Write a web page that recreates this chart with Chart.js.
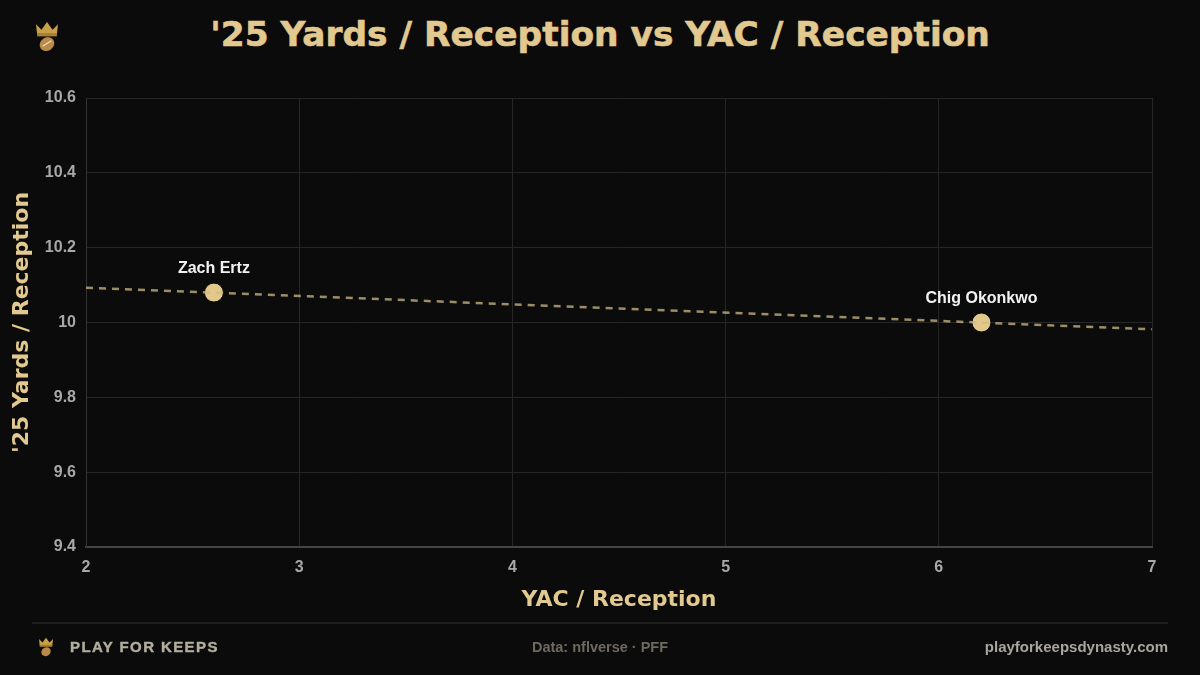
<!DOCTYPE html>
<html>
<head>
<meta charset="utf-8">
<script src="https://cdn.jsdelivr.net/npm/chart.js@4.4.0/dist/chart.umd.min.js"></script>
<style>
  html, body { margin: 0; padding: 0; background: #0b0b0b; }
  #wrap { position: relative; width: 1200px; height: 675px; overflow: hidden; }
  #chart { position: absolute; left: 0; top: 0; }
  .title { position: absolute; top: 14px; left: 0; width: 1200px; text-align: center;
    font-family: "DejaVu Sans", sans-serif; font-weight: bold; font-size: 34.4px; color: #e2c98f;
    -webkit-text-stroke: 0.6px #e2c98f; }
  .rule { position: absolute; left: 32px; top: 622px; width: 1136px; height: 2px; background: #1f1f1f; }
  .brand { position: absolute; left: 70px; top: 638px; font-family: "Liberation Sans", Arial, sans-serif;
    font-weight: bold; font-size: 15px; letter-spacing: 1.4px; color: #b3ae9e; -webkit-text-stroke: 0.4px #b3ae9e; }
  .source { position: absolute; left: 0; width: 1200px; top: 639px; text-align: center;
    font-family: "Liberation Sans", Arial, sans-serif; font-weight: bold; font-size: 14.5px; color: #6e6a60; }
  .site { position: absolute; right: 32px; top: 638px; font-family: "Liberation Sans", Arial, sans-serif;
    font-weight: bold; font-size: 15px; color: #a9a69c; }
  .logo { position: absolute; }
</style>
</head>
<body>
<div id="wrap">
  <svg class="logo" style="left:33px;top:21px" width="28" height="33" viewBox="0 0 24 30">
    <path d="M3 12 L2 3 L7 8 L12 1 L17 8 L22 3 L21 12 Z" fill="#c9a04a"/>
    <rect x="3" y="11" width="18" height="3" fill="#a8802e"/>
    <ellipse cx="12" cy="21" rx="7" ry="6" fill="#b98a4c" transform="rotate(-35 12 21)"/>
    <path d="M8 23 L16 18" stroke="#f0e0c0" stroke-width="1"/>
  </svg>
  <div class="title">'25 Yards / Reception vs YAC / Reception</div>
  <canvas id="chart" width="1200" height="675"></canvas>
  <div class="rule"></div>
  <svg class="logo" style="left:37px;top:637px" width="18" height="21" viewBox="0 0 24 30">
    <path d="M3 12 L2 3 L7 8 L12 1 L17 8 L22 3 L21 12 Z" fill="#c9a04a"/>
    <rect x="3" y="11" width="18" height="3" fill="#a8802e"/>
    <ellipse cx="12" cy="21" rx="7" ry="6" fill="#b98a4c" transform="rotate(-35 12 21)"/>
  </svg>
  <div class="brand">PLAY FOR KEEPS</div>
  <div class="source">Data: nflverse · PFF</div>
  <div class="site">playforkeepsdynasty.com</div>
</div>
<script>
// Datos
const players = ['Zach Ertz', 'Chig Okonkwo'];
const yacPerRec = [2.6, 6.2];
const yardsPerRec = [10.08, 10.0];

// Línea de tendencia (extremos leídos)
const trendX = [2, 7];
const trendY = [10.093, 9.982];

const xTicks = [2, 3, 4, 5, 6, 7];
const yTicks = [9.4, 9.6, 9.8, 10, 10.2, 10.4, 10.6];

const gold = '#e2c98b';
const tickFont = { family: '"Liberation Sans", Arial, sans-serif', weight: 'bold', size: 16 };
const axisTitleFont = { family: '"DejaVu Sans", sans-serif', weight: 'bold', size: 22 };

// Etiquetas con nombre sobre cada punto
const pointLabels = {
  id: 'pointLabels',
  afterDatasetsDraw(chart) {
    const ctx = chart.ctx;
    const meta = chart.getDatasetMeta(1);
    ctx.save();
    ctx.font = 'bold 16px "Liberation Sans", Arial, sans-serif';
    ctx.fillStyle = '#f2f2f2';
    ctx.textAlign = 'center';
    ctx.textBaseline = 'middle';
    meta.data.forEach((pt, i) => {
      ctx.fillText(players[i], pt.x, pt.y - 24);
    });
    ctx.restore();
  }
};

new Chart(document.getElementById('chart'), {
  type: 'scatter',
  data: {
    datasets: [
      {
        type: 'line',
        data: trendX.map((x, i) => ({ x: x, y: trendY[i] })),
        borderColor: 'rgba(205, 185, 135, 0.75)',
        borderWidth: 2.5,
        borderDash: [7, 6],
        pointRadius: 0,
        fill: false
      },
      {
        data: yacPerRec.map((x, i) => ({ x: x, y: yardsPerRec[i] })),
        backgroundColor: gold,
        borderColor: '#0b0b0b',
        borderWidth: 1,
        pointRadius: 9.5,
        pointHoverRadius: 9.5
      }
    ]
  },
  options: {
    responsive: false,
    animation: false,
    layout: { padding: { top: 98, right: 48, bottom: 58, left: 0 } },
    plugins: { legend: { display: false }, tooltip: { enabled: false } },
    scales: {
      x: {
        type: 'linear',
        min: 2, max: 7,
        afterBuildTicks: (s) => { s.ticks = xTicks.map(v => ({ value: v })); },
        afterFit: (s) => { s.height = 70; },
        grid: { color: '#262626', lineWidth: 1, drawTicks: false },
        border: { color: '#444', width: 2 },
        ticks: { color: '#a8a8a8', font: tickFont, padding: 11 },
        title: { display: true, text: 'YAC / Reception', color: '#e2c98f', font: axisTitleFont, padding: { top: 6 } }
      },
      y: {
        min: 9.4, max: 10.6,
        afterBuildTicks: (s) => { s.ticks = yTicks.map(v => ({ value: v })); },
        afterFit: (s) => { s.width = 86; },
        grid: { color: '#262626', lineWidth: 1, drawTicks: false },
        border: { color: '#333', width: 1 },
        ticks: { color: '#a8a8a8', font: tickFont, padding: 10,
          callback: (v) => String(Math.round(v * 10) / 10) },
        title: { display: true, text: "'25 Yards / Reception", color: '#e2c98f', font: axisTitleFont, padding: { top: 9, bottom: 0 } }
      }
    }
  },
  plugins: [pointLabels]
});
</script>
</body>
</html>
